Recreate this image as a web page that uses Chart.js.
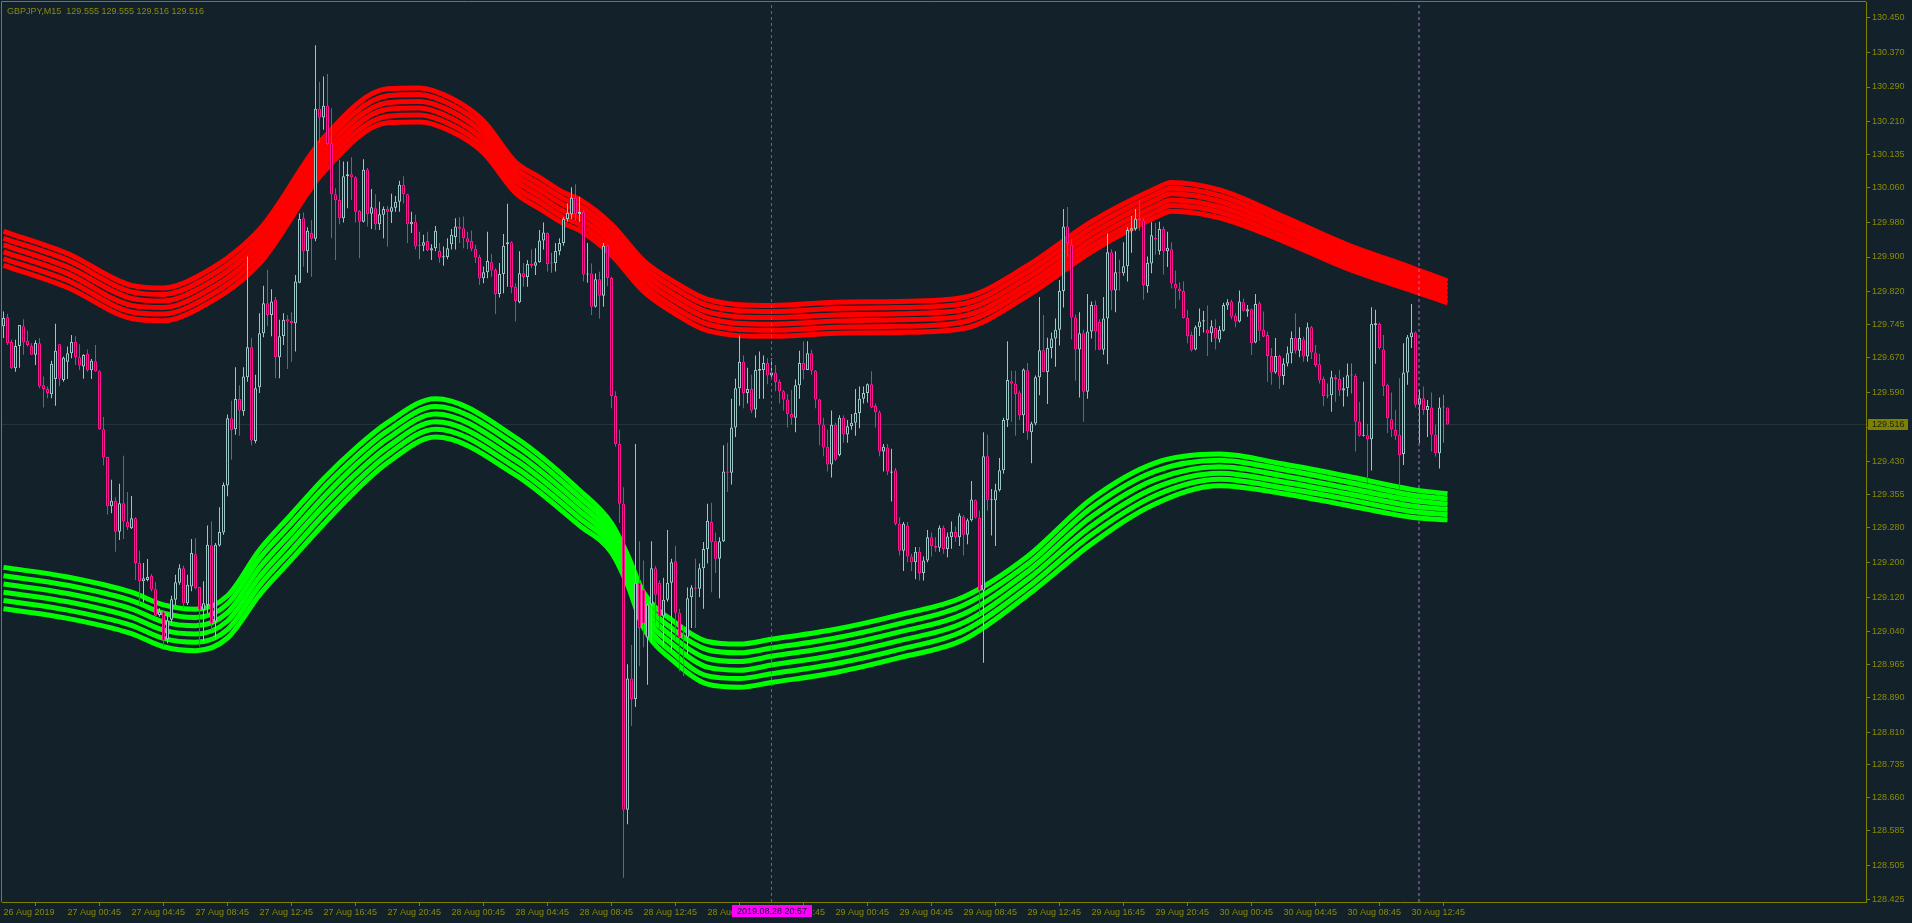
<!DOCTYPE html>
<html><head><meta charset="utf-8">
<script src="https://cdn.jsdelivr.net/npm/chart.js@4.4.1/dist/chart.umd.min.js"></script>
<style>html,body{margin:0;padding:0;background:#13222a;overflow:hidden}#wrap{position:relative;width:1912px;height:923px}</style>
</head><body><div id="wrap"><canvas id="c"></canvas></div>
<script>
// ---- data (GBPJPY M15, bar 0 = 26 Aug 2019 20:45) ----
const opens = [
129.741,129.762,129.705,129.645,129.696,129.741,129.708,129.696,129.676,129.702,
129.606,129.597,129.585,129.620,129.700,129.618,129.660,129.679,129.705,129.670,
129.649,129.678,129.640,129.661,129.638,129.505,129.441,129.328,129.341,129.270,
129.335,129.292,129.278,129.301,129.198,129.156,129.159,129.169,129.138,129.079,
129.085,129.023,129.068,129.114,129.153,129.186,129.106,129.144,129.218,129.143,
129.091,129.102,129.239,129.064,129.238,129.268,129.376,129.530,129.505,129.574,
129.546,129.624,129.693,129.478,129.601,129.725,129.794,129.767,129.802,129.670,
129.719,129.757,129.753,129.748,129.841,129.989,129.913,129.955,129.942,130.240,
130.220,130.247,130.161,130.044,130.031,129.989,130.085,130.090,130.083,130.006,
129.981,130.101,129.999,130.012,129.975,129.997,130.010,130.004,130.013,130.027,
130.066,130.044,129.975,129.981,129.926,129.926,129.937,129.915,129.920,129.914,
129.899,129.900,129.929,129.946,129.970,129.966,129.943,129.937,129.919,129.900,
129.851,129.865,129.888,129.870,129.815,129.861,129.929,129.934,129.832,129.796,
129.863,129.854,129.884,129.880,129.888,129.938,129.955,129.885,129.886,129.913,
129.932,129.987,129.998,130.036,129.998,130.003,129.860,129.862,129.786,129.849,
129.811,129.926,129.852,129.581,129.471,129.334,128.632,128.933,128.886,129.153,
129.136,129.027,129.103,129.186,129.153,129.076,129.114,129.153,129.202,129.084,
129.029,129.027,129.120,129.142,129.139,129.186,129.230,129.292,129.248,129.208,
129.248,129.408,129.405,129.509,129.599,129.660,129.588,129.597,129.550,129.639,
129.641,129.657,129.628,129.635,129.613,129.592,129.573,129.540,129.531,129.606,
129.657,129.641,129.679,129.639,129.573,129.515,129.465,129.424,129.515,129.446,
129.531,129.493,129.512,129.520,129.542,129.575,129.588,129.608,129.558,129.544,
129.454,129.463,129.405,129.411,129.288,129.226,129.284,129.213,129.200,129.224,
129.175,129.204,129.257,129.237,129.233,129.279,129.230,129.257,129.269,129.257,
129.304,129.263,129.296,129.342,129.302,129.135,129.443,129.342,129.342,129.365,
129.411,129.526,129.615,129.609,129.589,129.537,129.640,129.498,129.518,129.624,
129.686,129.636,129.691,129.713,129.733,129.822,129.970,129.928,129.761,129.688,
129.725,129.591,129.729,129.790,129.751,129.687,129.759,129.911,129.823,129.865,
129.863,129.879,129.960,129.964,129.989,129.984,129.833,129.885,129.944,129.913,
129.964,129.913,129.918,129.838,129.828,129.822,129.760,129.721,129.688,129.739,
129.752,129.733,129.725,129.737,129.711,129.731,129.789,129.798,129.765,129.752,
129.796,129.775,129.780,129.704,129.794,129.733,129.721,129.673,129.635,129.673,
129.627,129.656,129.679,129.714,129.685,129.711,129.672,129.739,129.681,129.654,
129.620,129.582,129.583,129.624,129.620,129.594,129.599,129.628,129.627,129.522,
129.490,129.491,129.482,129.744,129.747,129.688,129.607,129.528,129.503,129.492,
129.448,129.635,129.716,129.727,129.561,129.576,129.549,129.555,129.492,129.450,
129.555,129.555];
const highs = [
129.775,129.770,129.710,129.710,129.744,129.757,129.731,129.702,129.709,129.714,
129.626,129.603,129.662,129.747,129.700,129.672,129.695,129.721,129.718,129.700,
129.677,129.688,129.666,129.698,129.640,129.533,129.442,129.389,129.349,129.380,
129.444,129.361,129.352,129.303,129.226,129.198,129.207,129.173,129.154,129.094,
129.091,129.083,129.123,129.171,129.195,129.192,129.171,129.253,129.255,129.143,
129.156,129.284,129.293,129.244,129.326,129.383,129.539,129.570,129.647,129.606,
129.647,129.901,129.714,129.630,129.771,129.834,129.871,129.826,129.808,129.756,
129.771,129.767,129.773,129.859,130.000,130.002,129.968,129.985,130.386,130.302,
130.314,130.320,130.241,130.058,130.123,130.119,130.119,130.129,130.085,130.008,
130.124,130.104,130.056,130.044,130.027,130.016,130.017,130.045,130.040,130.075,
130.085,130.045,130.004,129.997,129.958,129.951,129.958,129.929,129.971,129.932,
129.924,129.943,129.964,129.989,129.991,129.993,129.958,129.961,129.928,129.905,
129.878,129.958,129.907,129.874,129.886,129.953,130.022,129.936,129.840,129.913,
129.886,129.893,129.917,129.920,129.962,129.979,129.956,129.910,129.932,129.943,
129.992,130.023,130.060,130.067,130.038,130.008,129.932,129.885,129.862,129.866,
129.932,129.928,129.855,129.592,129.504,129.372,128.966,129.010,129.471,129.248,
129.204,129.105,129.248,129.191,129.158,129.164,129.274,129.208,129.237,129.093,
129.054,129.142,129.147,129.208,129.197,129.246,129.334,129.336,129.268,129.257,
129.468,129.474,129.575,129.621,129.720,129.674,129.646,129.630,129.674,129.683,
129.674,129.668,129.668,129.652,129.619,129.595,129.586,129.595,129.619,129.685,
129.707,129.707,129.687,129.641,129.575,129.531,129.504,129.548,129.520,129.537,
129.537,129.526,129.540,129.597,129.603,129.603,129.610,129.638,129.564,129.548,
129.471,129.471,129.460,129.416,129.303,129.292,129.292,129.219,129.235,129.235,
129.213,129.274,129.268,129.257,129.284,129.284,129.268,129.293,129.281,129.312,
129.308,129.300,129.386,129.344,129.318,129.498,129.492,129.368,129.380,129.439,
129.531,129.707,129.639,129.639,129.593,129.644,129.657,129.522,129.628,129.808,
129.767,129.715,129.727,129.759,129.847,130.010,130.015,129.942,129.768,129.773,
129.733,129.815,129.798,129.800,129.757,129.808,129.954,129.918,129.913,129.894,
129.934,129.968,129.994,130.010,130.031,129.989,129.901,129.980,129.978,129.981,
129.970,129.958,129.934,129.869,129.842,129.844,129.778,129.729,129.743,129.782,
129.776,129.789,129.755,129.757,129.742,129.795,129.803,129.802,129.771,129.823,
129.805,129.790,129.782,129.815,129.798,129.775,129.729,129.691,129.714,129.676,
129.668,129.695,129.729,129.771,129.739,129.717,129.750,129.742,129.698,129.678,
129.626,129.610,129.639,129.630,129.641,129.624,129.656,129.656,129.632,129.568,
129.614,129.517,129.785,129.779,129.750,129.721,129.609,129.589,129.549,129.622,
129.702,129.721,129.792,129.729,129.595,129.603,129.572,129.589,129.515,129.578,
129.584,129.555];
const lows = [
129.714,129.698,129.643,129.637,129.646,129.676,129.695,129.676,129.652,129.599,
129.555,129.576,129.576,129.559,129.604,129.614,129.620,129.668,129.652,129.641,
129.621,129.637,129.620,129.637,129.503,129.422,129.309,129.312,129.224,129.251,
129.253,129.274,129.276,129.159,129.102,129.108,129.156,129.133,129.075,129.075,
129.007,129.014,129.060,129.102,129.148,129.094,129.102,129.133,129.137,129.007,
129.018,129.083,129.045,129.022,129.236,129.263,129.351,129.435,129.492,129.490,
129.536,129.614,129.468,129.473,129.588,129.716,129.742,129.718,129.622,129.622,
129.698,129.643,129.660,129.683,129.840,129.878,129.864,129.855,129.936,130.161,
130.192,130.157,129.943,129.893,129.975,129.979,130.012,130.031,129.979,129.897,
129.979,129.970,129.964,129.962,129.962,129.943,129.924,129.978,130.004,130.004,
130.023,129.932,129.955,129.917,129.895,129.913,129.913,129.893,129.913,129.887,
129.880,129.895,129.917,129.917,129.932,129.920,129.918,129.913,129.886,129.836,
129.840,129.851,129.855,129.769,129.807,129.817,129.832,129.817,129.752,129.794,
129.832,129.832,129.874,129.859,129.887,129.917,129.867,129.864,129.867,129.904,
129.926,129.981,129.987,129.983,129.981,129.844,129.841,129.767,129.784,129.759,
129.786,129.833,129.553,129.465,129.290,128.476,128.599,128.824,128.868,128.961,
129.005,128.919,129.016,129.060,129.049,129.005,129.109,128.994,129.021,128.950,
128.939,128.988,129.049,129.049,129.120,129.093,129.197,129.131,129.175,129.117,
129.246,129.361,129.378,129.487,129.559,129.553,129.564,129.542,129.531,129.575,
129.575,129.608,129.619,129.592,129.564,129.548,129.509,129.515,129.498,129.575,
129.619,129.641,129.630,129.553,129.468,129.443,129.408,129.394,129.432,129.443,
129.474,129.474,129.504,129.490,129.507,129.564,129.566,129.553,129.509,129.443,
129.408,129.400,129.339,129.284,129.215,129.180,129.200,129.180,129.161,129.158,
129.158,129.200,129.213,129.224,129.224,129.219,129.211,129.231,129.247,129.237,
129.215,129.241,129.293,129.300,129.079,128.969,129.318,129.261,129.237,129.362,
129.403,129.510,129.522,129.490,129.526,129.496,129.481,129.427,129.514,129.583,
129.636,129.563,129.668,129.648,129.697,129.784,129.901,129.711,129.616,129.578,
129.522,129.575,129.713,129.686,129.686,129.676,129.654,129.778,129.773,129.823,
129.857,129.844,129.910,129.960,129.960,129.802,129.818,129.863,129.905,129.905,
129.860,129.877,129.828,129.782,129.802,129.759,129.702,129.683,129.686,129.719,
129.727,129.673,129.705,129.688,129.704,129.729,129.779,129.757,129.739,129.750,
129.775,129.763,129.675,129.702,129.708,129.716,129.614,129.607,129.632,129.597,
129.607,129.649,129.656,129.678,129.670,129.660,129.660,129.666,129.647,129.610,
129.558,129.576,129.545,129.568,129.581,129.557,129.580,129.587,129.454,129.488,
129.488,129.377,129.410,129.655,129.688,129.581,129.496,129.487,129.480,129.366,
129.423,129.607,129.691,129.555,129.473,129.538,129.487,129.454,129.442,129.415,
129.474,129.516];
const closes = [
129.760,129.702,129.645,129.696,129.744,129.704,129.698,129.676,129.703,129.603,
129.597,129.588,129.655,129.685,129.621,129.669,129.679,129.705,129.670,129.651,
129.675,129.640,129.662,129.638,129.505,129.440,129.328,129.341,129.270,129.335,
129.293,129.280,129.301,129.198,129.156,129.163,129.166,129.137,129.077,129.087,
129.020,129.066,129.115,129.154,129.186,129.106,129.148,129.221,129.140,129.091,
129.106,129.240,129.060,129.240,129.269,129.377,129.530,129.503,129.574,129.548,
129.626,129.693,129.479,129.599,129.725,129.794,129.767,129.798,129.670,129.718,
129.756,129.752,129.748,129.844,129.987,129.913,129.960,129.942,130.240,130.220,
130.247,130.159,130.044,130.030,129.989,130.085,130.090,130.083,130.004,129.981,
130.100,129.998,130.014,129.975,129.998,130.010,130.004,130.014,130.027,130.066,
130.044,129.975,129.981,129.924,129.926,129.934,129.915,129.920,129.960,129.899,
129.902,129.920,129.951,129.970,129.965,129.943,129.934,129.919,129.899,129.851,
129.865,129.891,129.869,129.815,129.861,129.926,129.934,129.831,129.799,129.863,
129.854,129.884,129.880,129.888,129.938,129.956,129.884,129.885,129.914,129.932,
129.987,130.001,130.036,129.998,130.003,129.860,129.862,129.786,129.849,129.811,
129.926,129.852,129.581,129.471,129.334,128.632,128.933,128.886,129.153,129.049,
129.060,129.103,129.186,129.125,129.076,129.114,129.153,129.200,129.084,129.027,
129.027,129.117,129.142,129.139,129.186,129.230,129.295,129.246,129.208,129.248,
129.408,129.405,129.509,129.599,129.660,129.588,129.597,129.548,129.641,129.643,
129.657,129.628,129.635,129.613,129.592,129.573,129.540,129.531,129.606,129.657,
129.641,129.679,129.639,129.573,129.515,129.463,129.424,129.515,129.435,129.531,
129.493,129.512,129.520,129.542,129.575,129.588,129.608,129.555,129.544,129.454,
129.465,129.408,129.408,129.288,129.226,129.288,129.213,129.200,129.224,129.175,
129.204,129.257,129.237,129.233,129.279,129.230,129.259,129.270,129.257,129.307,
129.263,129.296,129.344,129.302,129.135,129.443,129.342,129.344,129.365,129.411,
129.526,129.618,129.609,129.586,129.537,129.642,129.500,129.518,129.624,129.686,
129.636,129.691,129.713,129.733,129.822,129.970,129.932,129.761,129.688,129.725,
129.591,129.729,129.790,129.729,129.687,129.759,129.911,129.823,129.865,129.863,
129.879,129.962,129.966,129.988,129.984,129.836,129.887,129.950,129.940,129.964,
129.913,129.921,129.839,129.828,129.822,129.760,129.718,129.686,129.739,129.752,
129.755,129.725,129.741,129.713,129.733,129.790,129.796,129.763,129.752,129.798,
129.777,129.780,129.702,129.792,129.731,129.717,129.673,129.635,129.673,129.626,
129.656,129.679,129.714,129.685,129.714,129.672,129.739,129.681,129.652,129.617,
129.581,129.582,129.624,129.620,129.594,129.599,129.629,129.628,129.522,129.490,
129.491,129.482,129.747,129.748,129.691,129.604,129.530,129.505,129.490,129.446,
129.635,129.716,129.727,129.561,129.576,129.549,129.558,129.492,129.450,129.555,
129.555,129.516];

const timeTickBars = [0,16,32,48,64,80,96,112,128,144,160,176,192,208,224,240,256,272,288,304,320,336,352];
const timeLabels = ["26 Aug 2019","27 Aug 00:45","27 Aug 04:45","27 Aug 08:45","27 Aug 12:45","27 Aug 16:45","27 Aug 20:45",
 "28 Aug 00:45","28 Aug 04:45","28 Aug 08:45","28 Aug 12:45","28 Aug 16:45","28 Aug 20:45",
 "29 Aug 00:45","29 Aug 04:45","29 Aug 08:45","29 Aug 12:45","29 Aug 16:45","29 Aug 20:45",
 "30 Aug 00:45","30 Aug 04:45","30 Aug 08:45","30 Aug 12:45"];
const priceTicks = [130.450,130.370,130.290,130.210,130.135,130.060,129.980,129.900,129.820,129.745,129.670,129.590,129.510,
 129.430,129.355,129.280,129.200,129.120,129.040,128.965,128.890,128.810,128.735,128.660,128.585,128.505,128.425];
const hiddenTick = 129.510;

// upper (red) envelope: six parallel lines, read at knot bars
const redKnots = [0,16,32,40,48,64,80,96,104,112,120,128,134,140,144,152,160,168,176,192,208,224,240,256,272,288,292,304,320,336,352,361];
const red1 = [129.959,129.908,129.835,129.829,129.853,129.963,130.173,130.286,130.288,130.264,130.212,130.118,130.083,130.048,130.032,129.975,129.892,129.841,129.803,129.789,129.796,129.798,129.807,129.880,129.981,130.057,130.071,130.054,129.993,129.928,129.876,129.845];
const red2 = [129.943,129.893,129.820,129.814,129.838,129.947,130.158,130.270,130.273,130.249,130.198,130.104,130.068,130.034,130.018,129.961,129.878,129.827,129.789,129.775,129.782,129.784,129.793,129.866,129.967,130.044,130.058,130.041,129.982,129.917,129.866,129.835];
const red3 = [129.928,129.877,129.805,129.799,129.823,129.932,130.142,130.254,130.257,130.234,130.183,130.090,130.054,130.020,130.004,129.946,129.864,129.812,129.774,129.761,129.767,129.770,129.779,129.852,129.953,130.031,130.045,130.028,129.970,129.906,129.855,129.825];
const red4 = [129.912,129.862,129.789,129.784,129.808,129.916,130.126,130.239,130.242,130.218,130.168,130.076,130.040,130.005,129.989,129.932,129.850,129.798,129.760,129.746,129.753,129.756,129.765,129.838,129.939,130.017,130.031,130.015,129.959,129.895,129.844,129.815];
const red5 = [129.896,129.846,129.774,129.769,129.793,129.901,130.111,130.223,130.226,130.203,130.153,130.061,130.026,129.991,129.975,129.918,129.835,129.783,129.746,129.732,129.739,129.741,129.751,129.825,129.925,130.004,130.018,130.003,129.947,129.884,129.834,129.805];
const red6 = [129.881,129.830,129.759,129.754,129.778,129.885,130.095,130.208,130.210,130.188,130.139,130.047,130.011,129.977,129.961,129.904,129.821,129.769,129.731,129.718,129.725,129.727,129.736,129.811,129.912,129.991,130.005,129.990,129.936,129.873,129.823,129.795];

// lower (green) envelope
const greenKnots = [0,16,32,40,48,56,64,72,80,88,96,108,128,144,152,156,160,168,176,184,192,208,224,240,256,272,288,304,320,336,352,361];
const green1 = [129.188,129.166,129.131,129.102,129.092,129.123,129.228,129.310,129.391,129.461,129.520,129.575,129.486,129.365,129.289,129.217,129.131,129.061,129.018,129.012,129.023,129.046,129.079,129.120,129.213,129.345,129.428,129.448,129.425,129.397,129.367,129.357];
const green2 = [129.169,129.147,129.112,129.083,129.073,129.104,129.208,129.289,129.370,129.441,129.501,129.557,129.469,129.349,129.276,129.203,129.115,129.042,128.999,128.992,129.003,129.026,129.059,129.101,129.195,129.325,129.409,129.434,129.412,129.384,129.354,129.345];
const green3 = [129.150,129.128,129.093,129.063,129.054,129.084,129.187,129.268,129.349,129.422,129.483,129.540,129.451,129.333,129.262,129.189,129.099,129.024,128.979,128.972,128.984,129.007,129.040,129.081,129.178,129.304,129.390,129.419,129.398,129.370,129.342,129.333];
const green4 = [129.131,129.109,129.074,129.044,129.035,129.065,129.166,129.248,129.329,129.402,129.464,129.522,129.434,129.317,129.249,129.176,129.083,129.006,128.959,128.952,128.964,128.987,129.020,129.061,129.160,129.283,129.371,129.404,129.384,129.357,129.329,129.321];
const green5 = [129.112,129.090,129.055,129.025,129.016,129.045,129.146,129.227,129.308,129.382,129.446,129.505,129.417,129.301,129.236,129.162,129.067,128.987,128.939,128.933,128.944,128.967,129.000,129.042,129.142,129.263,129.353,129.390,129.370,129.344,129.316,129.309];
const green6 = [129.093,129.071,129.036,129.006,128.997,129.026,129.125,129.206,129.287,129.363,129.428,129.487,129.400,129.284,129.222,129.148,129.050,128.969,128.920,128.913,128.924,128.947,128.981,129.022,129.124,129.242,129.334,129.375,129.357,129.330,129.303,129.297];

const currentPrice = 129.516;
const markerBars = [192, 353.875];
const markerLabel = "2019.08.28 20:57";
const headerText = "GBPJPY,M15  129.555 129.555 129.516 129.516";

// ---- styles ----
const BG = '#13222a', AX = '#818100', AXT = '#8a8a06';
const BULL = '#9cc6c6', BEAR = '#ff1493', DOJI = '#74807f';
const FONT = {family: 'Liberation Sans', size: 9};
const X_MIN = -0.375, X_MAX = 465.625, Y_MIN = 128.4204, Y_MAX = 130.485;

const candleCol = opens.map((o, i) => closes[i] > o ? BULL : (closes[i] < o ? BEAR : DOJI));
const lineSet = (knots, vals, color) => ({
  type: 'line', data: knots.map((k, j) => ({x: k, y: vals[j]})), borderColor: color, borderWidth: 5,
  pointRadius: 0, cubicInterpolationMode: 'monotone', fill: false, order: 8, borderCapStyle: 'butt'
});

const datasets = [
  {type: 'line', data: [{x: X_MIN, y: currentPrice}, {x: X_MAX, y: currentPrice}], borderColor: '#27373d', borderWidth: 1, pointRadius: 0, order: 9},
  ...[red1, red2, red3, red4, red5, red6].map(a => lineSet(redKnots, a, '#ff0000')),
  ...[green1, green2, green3, green4, green5, green6].map(a => lineSet(greenKnots, a, '#00ff00')),
  {type: 'bar', data: lows.map((l, i) => ({x: i, y: [l, highs[i]]})), backgroundColor: candleCol, borderWidth: 0,
   barThickness: 1, grouped: false, inflateAmount: 0, order: 3},
  {type: 'bar', data: opens.map((o, i) => ({x: i, y: [o, closes[i]]})), backgroundColor: BG, borderColor: candleCol, borderWidth: 1,
   borderSkipped: false, barThickness: 3, minBarLength: 1, grouped: false, inflateAmount: 0, order: 2},
  {type: 'line', data: [{x: markerBars[0], y: Y_MIN}, {x: markerBars[0], y: Y_MAX}], borderColor: '#ff00ff', borderWidth: 1, borderDash: [3, 3], pointRadius: 0, order: 1},
  {type: 'line', data: [{x: markerBars[1], y: Y_MIN}, {x: markerBars[1], y: Y_MAX}], borderColor: '#b468e0', borderWidth: 1, borderDash: [3, 3], pointRadius: 0, order: 1}
];

const overlay = {
  id: 'overlay',
  afterDraw(chart) {
    const {ctx, chartArea: a, scales: {x, y}} = chart;
    ctx.save();
    ctx.strokeStyle = AX; ctx.lineWidth = 1;
    ctx.beginPath();
    ctx.moveTo(a.left - 0.5, a.bottom); ctx.lineTo(a.left - 0.5, a.top - 0.5); ctx.lineTo(a.right, a.top - 0.5);
    ctx.stroke();
    ctx.font = '9px "Liberation Sans"'; ctx.textBaseline = 'middle'; ctx.textAlign = 'left';
    ctx.fillStyle = AXT;
    ctx.fillText(headerText, 7, 12);
    // current price box
    const py = Math.round(y.getPixelForValue(currentPrice));
    ctx.fillStyle = '#7f7f00';
    ctx.fillRect(y.left + 2, py - 5, 40, 11);
    ctx.fillStyle = '#15231f';
    ctx.fillText(currentPrice.toFixed(3), y.left + 6, py + 0.5);
    // crosshair time box
    const mx = Math.round(x.getPixelForValue(markerBars[0]));
    ctx.fillStyle = '#ff00ff';
    ctx.fillRect(mx - 40, x.top + 3, 80, 12);
    ctx.fillStyle = '#1a1030'; ctx.textAlign = 'center';
    ctx.fillText(markerLabel, mx, x.top + 9.5);
    ctx.restore();
  }
};

new Chart(document.getElementById('c'), {
  type: 'bar',
  data: {datasets},
  options: {
    responsive: true, maintainAspectRatio: false, animation: false,
    layout: {padding: {left: 2, top: 2, right: 0, bottom: 0}},
    plugins: {legend: {display: false}, tooltip: {enabled: false}},
    scales: {
      x: {
        type: 'linear', min: X_MIN, max: X_MAX, position: 'bottom', offset: false,
        afterBuildTicks: s => { s.ticks = timeTickBars.map(v => ({value: v})); },
        afterFit: s => { s.height = 21; s.paddingLeft = 0; s.paddingRight = 0; },
        ticks: {autoSkip: false, maxRotation: 0, minRotation: 0, align: 'start', padding: 1, color: AXT, font: FONT,
          callback: v => { const j = timeTickBars.indexOf(v); return j >= 0 ? timeLabels[j] : ''; }},
        grid: {drawOnChartArea: false, drawTicks: true, tickLength: 4, color: AX},
        border: {display: true, color: AX, width: 1}
      },
      y: {
        type: 'linear', position: 'right', min: Y_MIN, max: Y_MAX,
        afterBuildTicks: s => { s.ticks = priceTicks.map(v => ({value: v})); },
        afterFit: s => { s.width = 46; s.paddingTop = 0; s.paddingBottom = 0; },
        ticks: {padding: 2, font: FONT, autoSkip: false,
          color: c => (c.tick && Math.abs(c.tick.value - hiddenTick) < 1e-6) ? 'rgba(0,0,0,0)' : AXT,
          callback: v => Number(v).toFixed(3)},
        grid: {drawOnChartArea: false, drawTicks: true, tickLength: 4, color: AX},
        border: {display: true, color: AX, width: 1}
      }
    }
  },
  plugins: [overlay]
});
</script>
</body></html>
